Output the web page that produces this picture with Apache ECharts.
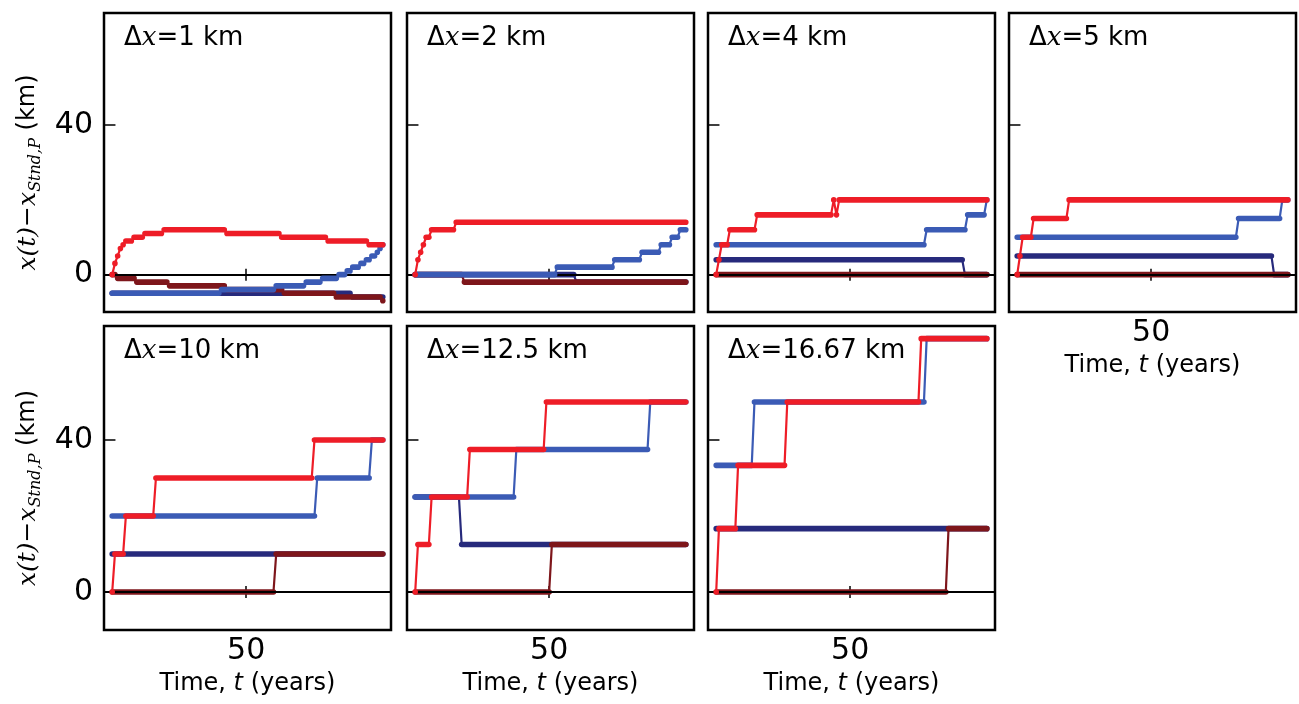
<!DOCTYPE html>
<html>
<head>
<meta charset="utf-8">
<script src="https://cdn.jsdelivr.net/npm/echarts@6/dist/echarts.min.js"></script>
<style>
  html, body { margin: 0; padding: 0; background: #fff; }
  #chart { width: 1299px; height: 704px; }
</style>
</head>
<body>
<div id="chart"></div>
<script>
// panel labels (grid spacing, km)
var spacings = ['1', '2', '4', '5', '10', '12.5', '16.67'];
var xTicks = [50];
var yTicks = [0, 40];

// each trajectory: list of [t start, t end, x(t) - x_Stnd,P] steps
var redSteps = [
    [[1,1,0],[2,2,3],[3,3,5],[4,4,7],[5,5,8],[6,8,9],[9,12,10],[13,19,11],[20,42,12],[43,62,11],[63,79,10],[80,94,9],[95,100,8]],
    [[1,1,0],[2,2,4],[3,3,6],[4,4,8],[5,6,10],[7,15,12],[16,100,14]],
    [[1,1,0],[2,2,4],[3,5,8],[6,15,12],[16,43,16],[44,44,20],[45,45,16],[46,100,20]],
    [[1,1,0],[2,2,5],[3,6,10],[7,19,15],[20,100,20]],
    [[1,1,0],[2,5,10],[6,16,20],[17,74,30],[75,100,40]],
    [[1,1,0],[2,6,12.5],[7,20,25],[21,48,37.5],[49,100,50]],
    [[1,1,0],[2,8,16.67],[9,26,33.33],[27,75,50],[76,100,66.67]]
];
var blueSteps = [
    [[1,40,-5],[41,60,-4],[61,71,-3],[72,77,-2],[78,83,-1],[84,86,0],[87,88,1],[89,91,2],[92,93,3],[94,95,4],[96,97,5],[98,98,6],[99,99,7],[100,100,8]],
    [[1,52,0],[53,73,2],[74,83,4],[84,90,6],[91,94,8],[95,97,10],[98,100,12]],
    [[1,77,8],[78,92,12],[93,99,16],[100,100,20]],
    [[1,81,10],[82,97,15],[98,100,20]],
    [[1,75,20],[76,95,30],[96,100,40]],
    [[1,37,25],[38,86,37.5],[87,100,50]],
    [[1,14,33.33],[15,77,50],[78,100,66.67]]
];
var navySteps = [
    [[1,88,-5],[89,100,-6]],
    [[1,59,0],[60,100,-2]],
    [[1,91,4],[92,100,0]],
    [[1,94,5],[95,100,0]],
    [[1,100,10]],
    [[1,17,25],[18,100,12.5]],
    [[1,100,16.67]]
];
var maroonSteps = [
    [[1,2,0],[3,9,-1],[10,21,-2],[22,42,-3],[43,63,-4],[64,82,-5],[83,99,-6],[100,100,-7]],
    [[1,18,0],[19,100,-2]],
    [[1,100,0]],
    [[1,100,0]],
    [[1,60,0],[61,100,10]],
    [[1,50,0],[51,100,12.5]],
    [[1,85,0],[86,100,16.67]]
];

var lefts = [104, 407, 708, 1009];
var tops = [13, 326];
var heights = [299, 304];
var panelW = 287;

var myChart = echarts.init(document.getElementById('chart'));

var tickStyle = { color: '#000', width: 1.5 };
var grids = [], xAxes = [], yAxes = [], titles = [], series = [];

var traces = [
    { steps: navySteps, color: '#272a7c', z: 3 },
    { steps: maroonSteps, color: '#7e161b', z: 4 },
    { steps: blueSteps, color: '#3b5bb5', z: 5 },
    { steps: redSteps, color: '#ee1d27', z: 6 }
];

function stepPoints(steps) {
    var pts = [];
    steps.forEach(function (s) {
        pts.push([s[0], s[2]]);
        pts.push([s[1], s[2]]);
    });
    return pts;
}

function renderStep(params, api) {
    var a = api.coord([api.value(0), api.value(2)]);
    var b = api.coord([api.value(1), api.value(2)]);
    return {
        type: 'rect',
        shape: { x: a[0] - 2.8, y: a[1] - 2.8, width: b[0] - a[0] + 5.6, height: 5.6, r: 2.8 },
        style: { fill: api.visual('color') }
    };
}

spacings.forEach(function (dx, i) {
    var row = i < 4 ? 0 : 1;
    var col = i < 4 ? i : i - 4;
    var showX = row === 1 || i === 3;
    var showY = col === 0;

    grids.push({
        left: lefts[col], top: tops[row], width: panelW, height: heights[row],
        show: true, borderColor: '#000', borderWidth: 2.5, backgroundColor: 'transparent'
    });

    xAxes.push({
        gridIndex: i, type: 'value', min: -2, max: 103, position: 'bottom',
        axisLine: { show: false }, splitLine: { show: false },
        axisTick: { show: true, inside: true, length: 6, lineStyle: tickStyle, customValues: xTicks },
        axisLabel: { show: showX, customValues: xTicks, margin: 6, fontSize: 30, fontFamily: 'DejaVu Sans', color: '#000' },
        name: showX ? '{a|Time, }{i|t}{a| (years)}' : '',
        nameLocation: 'middle', nameGap: 42,
        nameTextStyle: {
            rich: {
                a: { fontFamily: 'DejaVu Sans', fontSize: 24, color: '#000' },
                i: { fontFamily: 'DejaVu Sans', fontStyle: 'italic', fontSize: 24, color: '#000' }
            }
        }
    });
    xAxes.push({
        gridIndex: i, type: 'value', min: -2, max: 103, position: 'top',
        axisLine: { show: false }, splitLine: { show: false },
        axisTick: { show: true, inside: true, length: 6, lineStyle: tickStyle, customValues: xTicks },
        axisLabel: { show: false }
    });

    yAxes.push({
        gridIndex: i, type: 'value', min: -10, max: 70, position: 'left',
        axisLine: { show: false }, splitLine: { show: false },
        axisTick: { show: true, inside: true, length: 6, lineStyle: tickStyle, customValues: yTicks },
        axisLabel: { show: showY, customValues: yTicks, margin: 11, fontSize: 30, fontFamily: 'DejaVu Sans', color: '#000' },
        name: showY ? '{m|x(t)\u2212x}{s|Stnd,P}{k| (km)}' : '',
        nameLocation: 'middle', nameRotate: 90, nameGap: 60,
        nameTextStyle: {
            padding: [0, 20, 0, 0],
            rich: {
                m: { fontFamily: 'DejaVu Serif', fontStyle: 'italic', fontSize: 25, lineHeight: 32, color: '#000' },
                s: { fontFamily: 'DejaVu Serif', fontStyle: 'italic', fontSize: 16, lineHeight: 16, verticalAlign: 'bottom', color: '#000' },
                k: { fontFamily: 'DejaVu Sans', fontSize: 24, lineHeight: 32, color: '#000' }
            }
        }
    });
    yAxes.push({
        gridIndex: i, type: 'value', min: -10, max: 70, position: 'right',
        axisLine: { show: false }, splitLine: { show: false },
        axisTick: { show: true, inside: true, length: 6, lineStyle: tickStyle, customValues: yTicks },
        axisLabel: { show: false }
    });

    titles.push({
        text: '{d|\u0394}{x|x}{t|=' + dx + ' km}',
        left: lefts[col] + 15, top: tops[row] + 7,
        textStyle: {
            fontWeight: 'normal',
            rich: {
                d: { fontFamily: 'DejaVu Sans', fontWeight: 'normal', fontSize: 26, color: '#000' },
                x: { fontFamily: 'DejaVu Serif', fontStyle: 'italic', fontWeight: 'normal', fontSize: 26, color: '#000' },
                t: { fontFamily: 'DejaVu Sans', fontWeight: 'normal', fontSize: 26, color: '#000' }
            }
        }
    });

    // zero line
    series.push({
        type: 'line', xAxisIndex: 2 * i, yAxisIndex: 2 * i, data: [], z: 1, silent: true,
        markLine: {
            silent: true, symbol: 'none', label: { show: false },
            lineStyle: { color: '#000', width: 2, type: 'solid' },
            data: [{ yAxis: 0 }]
        }
    });

    traces.forEach(function (tr) {
        series.push({
            type: 'line', xAxisIndex: 2 * i, yAxisIndex: 2 * i,
            data: stepPoints(tr.steps[i]), showSymbol: false, symbol: 'none',
            lineStyle: { color: tr.color, width: 2.2 }, itemStyle: { color: tr.color },
            z: tr.z, silent: true
        });
        series.push({
            type: 'custom', xAxisIndex: 2 * i, yAxisIndex: 2 * i,
            data: tr.steps[i], encode: { x: [0, 1], y: 2 },
            renderItem: renderStep, itemStyle: { color: tr.color },
            z: tr.z, silent: true
        });
    });
});

var option = {
    animation: false,
    backgroundColor: '#fff',
    title: titles,
    grid: grids,
    xAxis: xAxes,
    yAxis: yAxes,
    series: series
};
myChart.setOption(option);
</script>
</body>
</html>
